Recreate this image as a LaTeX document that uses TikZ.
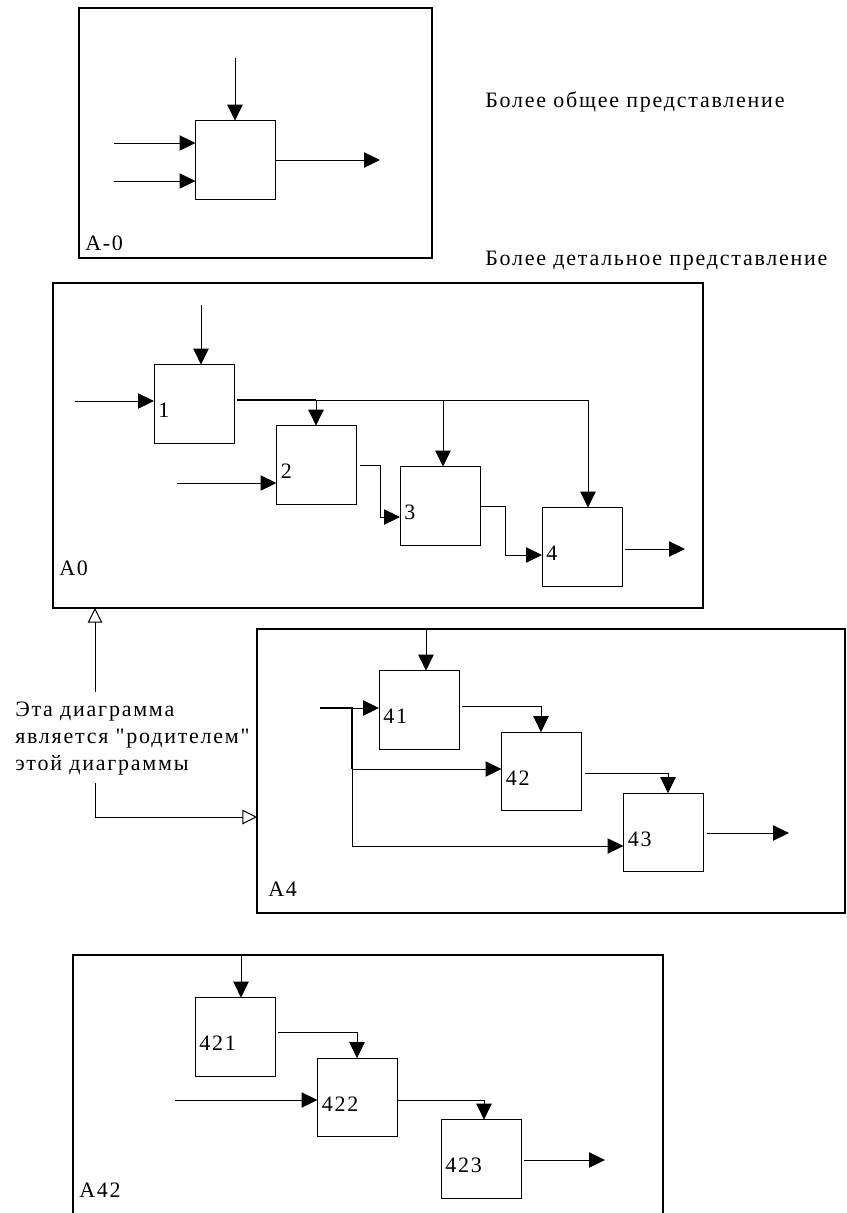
\documentclass[tikz,border=0pt]{standalone}
\usepackage{fontspec}
\setmainfont{Liberation Serif}[Ligatures=TeXOff, LetterSpace=8]
\usetikzlibrary{arrows.meta,fit}

\tikzset{
    fn/.style={draw, line width=0.75pt, minimum width=60pt, minimum height=59pt, inner sep=0pt, outer sep=0pt},
    frame/.style={draw, line width=1pt, inner sep=0pt, outer sep=0pt},
    num/.style={anchor=west, inner sep=3pt, yshift=-5pt},
    flow/.style={line width=0.75pt, -{Triangle[length=12pt,width=11.5pt]}},
    parent/.style={line width=0.75pt, -{Triangle[open,length=11pt,width=11pt]}},
    bus/.style={line width=2.2pt},
    src/.style={shorten <=2.5pt}
}

\begin{document}
\begin{tikzpicture}[x=0.75pt, y=-0.75pt, font=\fontsize{16.5}{20}\selectfont]
        \useasboundingbox (0,0) rectangle (846,1213);

        % frames
        \node[frame, fit={(79,8) (432,258)}] (fAm0) {};
        \node[frame, fit={(53,283) (703,608)}] (fA0) {};
        \node[frame, fit={(257,629) (845,913)}] (fA4) {};
        \node[frame, fit={(73,955) (663,1220)}] (fA42) {};
        \node[anchor=base west, inner sep=0pt] (lAm0) at (85,250) {A-0};
        \node[anchor=base west, inner sep=0pt] (lA0) at (59,575) {A0};
        \node[anchor=base west, inner sep=0pt] (lA4) at (268,896) {A4};
        \node[anchor=base west, inner sep=0pt] (lA42) at (79,1197) {A42};

        % A-0
        \node[fn] (a0) at (235.5,160) {};
        \coordinate (a0ctl) at (235,58);
        \coordinate (a0in1) at (114,143);
        \coordinate (a0in2) at (114,181);
        \coordinate (a0out) at (380,160);
        \draw[flow] (a0ctl) -- (a0ctl |- a0.north);
        \draw[flow] (a0in1) -- (a0.west |- a0in1);
        \draw[flow] (a0in2) -- (a0.west |- a0in2);
        \draw[flow] (a0.east) -- (a0out);

        \node[anchor=base west, inner sep=0pt] (tGen) at (485,108) {Более общее представление};
        \node[anchor=base west, inner sep=0pt] (tDet) at (485,265) {Более детальное представление};

        % A0
        \node[fn, label={[num]west:1}] (b1) at (194,404) {};
        \node[fn, label={[num]west:2}] (b2) at (316.5,465) {};
        \node[fn, label={[num]west:3}] (b3) at (440,506) {};
        \node[fn, label={[num]west:4}] (b4) at (582,547) {};
        \coordinate (c1) at (201,305);
        \coordinate (i1) at (75,401);
        \coordinate (i2) at (177,483);
        \coordinate (j2) at (316,400);
        \coordinate (j3) at (443,400);
        \coordinate (j4) at (588,400);
        \coordinate (k23) at (380,517);
        \coordinate (k34) at (505,555);
        \coordinate (o4) at (685,549);
        \draw[flow] (c1) -- (c1 |- b1.north);
        \draw[flow] (i1) -- (b1.west |- i1);
        \draw[bus, src] (b1.east |- j2) -- (j2);
        \draw[line width=0.75pt] (j2) -- (j4);
        \draw[flow] (j2) -- (j2 |- b2.north);
        \draw[flow] (j3) -- (j3 |- b3.north);
        \draw[flow] (j4) -- (j4 |- b4.north);
        \draw[flow] (i2) -- (b2.west |- i2);
        \draw[flow, src] (b2.east) -| (k23) -- (k23 -| b3.west);
        \draw[flow] (b3.east) -| (k34) -- (k34 -| b4.west);
        \draw[flow, src] (b4.east |- o4) -- (o4);

        % parent note
        \node[align=left, anchor=north west, inner sep=0pt] (tPar) at (15,702) {Эта диаграмма\\является "родителем"\\этой диаграммы};
        \coordinate (p1) at (95,692);
        \coordinate (p2) at (95,783);
        \coordinate (p3) at (95,817);
        \draw[parent] (p1) -- (p1 |- fA0.south);
        \draw[parent] (p2) -- (p3) -- (p3 -| fA4.west);

        % A4
        \node[fn, label={[num]west:41}] (b41) at (419,710) {};
        \node[fn, label={[num]west:42}] (b42) at (541.5,771.5) {};
        \node[fn, label={[num]west:43}] (b43) at (663.5,832.5) {};
        \coordinate (c41) at (426,629);
        \coordinate (i4) at (320,708);
        \coordinate (j41) at (352,708);
        \coordinate (j42) at (352,769);
        \coordinate (j43) at (352,846);
        \coordinate (k412) at (541,706);
        \coordinate (k423) at (668,773);
        \coordinate (o43) at (789,833);
        \draw[flow] (c41) -- (c41 |- b41.north);
        \draw[bus] (i4) -- (j41) -- (j42);
        \draw[flow] (j41) -- (j41 -| b41.west);
        \draw[flow] (j42) -- (j42 -| b42.west);
        \draw[flow] (j42) |- (b43.west |- j43);
        \draw[flow, src] (b41.east |- k412) -- (k412) -- (k412 |- b42.north);
        \draw[flow, src] (b42.east |- k423) -- (k423) -- (k423 |- b43.north);
        \draw[flow, src] (b43.east |- o43) -- (o43);

        % A42
        \node[fn, label={[num]west:421}] (b421) at (235,1037) {};
        \node[fn, label={[num]west:422}] (b422) at (357.5,1097.5) {};
        \node[fn, label={[num]west:423}] (b423) at (481,1159) {};
        \coordinate (c421) at (241,955);
        \coordinate (i422) at (175,1100);
        \coordinate (k4212) at (357,1032);
        \coordinate (k4223) at (484,1100);
        \coordinate (o423) at (605,1160);
        \draw[flow] (c421) -- (c421 |- b421.north);
        \draw[flow] (i422) -- (b422.west |- i422);
        \draw[flow, src] (b421.east |- k4212) -- (k4212) -- (k4212 |- b422.north);
        \draw[flow] (b422.east |- k4223) -- (k4223) -- (k4223 |- b423.north);
        \draw[flow, src] (b423.east |- o423) -- (o423);
    \end{tikzpicture}
\end{document}
